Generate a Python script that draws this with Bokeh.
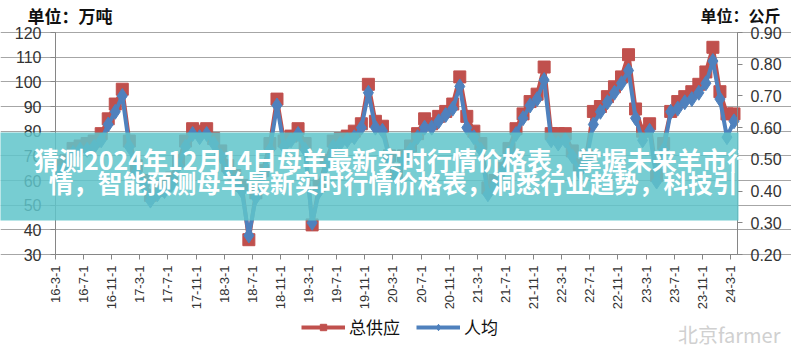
import math
from bokeh.plotting import figure
from bokeh.models import (Range1d, LinearAxis, FixedTicker, NumeralTickFormatter,
                          Legend, LegendItem, Label, BoxAnnotation, ColumnDataSource)
from bokeh.embed import file_html
from bokeh.resources import INLINE

# ---- data -------------------------------------------------------------
tick_labels = ["16-3-1", "16-7-1", "16-11-1", "17-3-1", "17-7-1", "17-11-1",
               "18-3-1", "18-7-1", "18-11-1", "19-3-1", "19-7-1", "19-11-1",
               "20-3-1", "20-7-1", "20-11-1", "21-3-1", "21-7-1", "21-11-1",
               "22-3-1", "22-7-1", "22-11-1", "23-3-1", "23-7-1", "23-11-1",
               "24-3-1"]

# 总供应 (万吨), monthly 2016-03 .. 2024-03
supply = [66, 68, 73, 74, 75, 76, 79, 85, 91, 97,
          76, 66, 60, 54, 56, 58, 61, 68, 76, 81, 80, 81,
          77, 72, 66, 62, 58, 36, 55, 64, 75, 93, 76, 78,
          81, 75, 42, 58, 68, 76, 77, 78, 80, 83, 99, 84,
          82, 70, 63, 70, 74, 79, 85, 83, 86, 88, 91, 102,
          86, 80, 75, 57, 60, 65, 73, 81, 87, 92, 95, 106,
          79, 79, 79, 72, 66, 70, 88, 90, 94, 98, 102, 111,
          89, 80, 83, 62, 75, 88, 92, 94, 96, 99, 104, 114,
          96, 87, 87]

# 人均 (公斤), monthly 2016-03 .. 2024-03
per_capita = [0.46, 0.48, 0.52, 0.53, 0.53, 0.54, 0.56, 0.61, 0.65, 0.70,
              0.54, 0.46, 0.42, 0.37, 0.39, 0.40, 0.42, 0.48, 0.54, 0.58, 0.57, 0.58,
              0.55, 0.51, 0.46, 0.43, 0.40, 0.26, 0.38, 0.45, 0.53, 0.67, 0.54, 0.56,
              0.58, 0.53, 0.30, 0.40, 0.48, 0.54, 0.55, 0.56, 0.57, 0.60, 0.71, 0.60,
              0.59, 0.50, 0.44, 0.50, 0.53, 0.57, 0.60, 0.60, 0.62, 0.64, 0.66, 0.73,
              0.60, 0.57, 0.53, 0.39, 0.42, 0.46, 0.52, 0.58, 0.63, 0.67, 0.69, 0.75,
              0.56, 0.55, 0.56, 0.51, 0.46, 0.50, 0.61, 0.65, 0.68, 0.71, 0.74, 0.78,
              0.63, 0.56, 0.59, 0.43, 0.53, 0.65, 0.66, 0.68, 0.69, 0.71, 0.74, 0.81,
              0.69, 0.57, 0.62]

left_ticks = [30, 40, 50, 60, 70, 80, 90, 100, 110, 120]
right_ticks = [0.2, 0.3, 0.4, 0.5, 0.6, 0.7, 0.8, 0.9]

series_names = ["总供应", "人均"]
unit_left = "单位：万吨"
unit_right = "单位：公斤"
banner_line1 = "猜测2024年12月14日母羊最新实时行情价格表，掌握未来羊市行"
banner_line2 = "情，智能预测母羊最新实时行情价格表，洞悉行业趋势，科技引"
watermark = "北京farmer"

n = len(supply)                      # one slot per month, point at slot centre
xs = [i + 0.5 for i in range(n)]
src = ColumnDataSource(dict(x=xs, supply=supply, pc=per_capita))

RED = "#c0504d"
BLUE = "#4f81bd"
AXIS = "#868686"
TXT = "#333333"
NUM_FONT = "Liberation Sans"
CJK = "Noto Sans CJK SC"

# The frame covers the whole figure; axes are pinned with fixed_location so
# that captions, legend and banner can live anywhere on the canvas.
W, H = 791, 355
FL, FT = 55, 32           # plot area left / top on the canvas
PX_X = 682 / n            # pixels per month
PX_L = 222 / 90           # pixels per left-axis unit
PX_R = 222 / 0.7          # pixels per right-axis unit
x0 = -FL / PX_X
x1 = x0 + W / PX_X
yl_top = 120 + FT / PX_L
yl_bot = yl_top - H / PX_L
yr_top = 0.9 + FT / PX_R
yr_bot = yr_top - H / PX_R

p = figure(width=W, height=H, output_backend="svg", toolbar_location=None,
           x_range=Range1d(x0, x1), y_range=Range1d(yl_bot, yl_top),
           min_border=0, x_axis_location=None, y_axis_location=None)
p.extra_y_ranges = {"right": Range1d(yr_bot, yr_top)}
p.outline_line_color = None
p.background_fill_color = "white"
p.border_fill_color = "white"

xaxis = LinearAxis(ticker=FixedTicker(ticks=[4 * k for k in range(len(tick_labels))]),
                   major_label_overrides={4 * k: t for k, t in enumerate(tick_labels)},
                   fixed_location=30, bounds=(0, n))
xaxis.major_label_orientation = math.pi / 2
p.add_layout(xaxis, "below")

yaxis = LinearAxis(ticker=FixedTicker(ticks=left_ticks), fixed_location=0, bounds=(30, 120))
p.add_layout(yaxis, "left")

raxis = LinearAxis(y_range_name="right", ticker=FixedTicker(ticks=right_ticks),
                   formatter=NumeralTickFormatter(format="0.00"),
                   fixed_location=n, bounds=(0.2, 0.9))
p.add_layout(raxis, "right")

for ax in (xaxis, yaxis, raxis):
    ax.axis_line_color = AXIS
    ax.major_tick_line_color = AXIS
    ax.major_tick_out = 5
    ax.major_tick_in = 0
    ax.minor_tick_out = 0
    ax.minor_tick_in = 0
    ax.major_label_text_color = TXT
    ax.major_label_text_font = NUM_FONT
xaxis.major_label_text_font_size = "13px"
xaxis.major_label_standoff = 6
yaxis.major_label_text_font_size = "16px"
yaxis.major_label_standoff = 9
raxis.major_label_text_font_size = "16px"
raxis.major_label_standoff = 8

p.xgrid.visible = False
p.ygrid.ticker = FixedTicker(ticks=left_ticks)
p.ygrid.bounds = (0, n)
p.ygrid.grid_line_color = "#a6a6a6"
p.ygrid.grid_line_width = 1

# series
r_line = p.line("x", "supply", source=src, line_color=RED, line_width=4)
r_mark = p.scatter("x", "supply", source=src, marker="square", size=12,
                   fill_color=RED, line_color=RED)
b_line = p.line("x", "pc", source=src, y_range_name="right", line_color=BLUE, line_width=4)
b_mark = p.scatter("x", "pc", source=src, y_range_name="right", marker="diamond", size=15,
                   fill_color=BLUE, line_color=BLUE)

legend = Legend(items=[LegendItem(label=series_names[0], renderers=[r_line, r_mark]),
                       LegendItem(label=series_names[1], renderers=[b_line, b_mark])],
                orientation="horizontal", location=(301, 16),
                label_text_font=CJK, label_text_font_size="17px", label_text_color="#111111",
                glyph_width=44, glyph_height=16, label_standoff=4, spacing=16,
                padding=0, margin=0, border_line_color=None, background_fill_alpha=0)
p.add_layout(legend, "center")

# unit captions
p.add_layout(Label(x=-3.98, y=126.9, text=unit_left, text_font=CJK, text_font_size="17px",
                   text_font_style="bold", text_color="#111111", text_align="left",
                   text_baseline="middle"))
p.add_layout(Label(x=103.1, y=126.9, text=unit_right, text_font=CJK, text_font_size="16px",
                   text_font_style="bold", text_color="#111111", text_align="right",
                   text_baseline="middle"))

# watermark
p.add_layout(Label(x=103.1, y=-2.6, text=watermark, text_font=CJK, text_font_size="20px",
                   text_color="#d0d0d0", text_align="right", text_baseline="middle"))

# banner overlay
p.add_layout(BoxAnnotation(left=x0 - 1, right=97.14, top=79.46, bottom=43.78,
                           fill_color="#5fc4ca", fill_alpha=0.85, line_color=None,
                           level="annotation"))
p.add_layout(Label(x=48.0, y=68.9, text=banner_line1, text_font=CJK, text_font_size="25px",
                   text_font_style="bold", text_color="white", text_align="center",
                   text_baseline="middle"))
p.add_layout(Label(x=48.0, y=59.2, text=banner_line2, text_font=CJK, text_font_size="24.6px",
                   text_font_style="bold", text_color="white", text_align="center",
                   text_baseline="middle"))

open("out.html", "w").write(file_html(p, INLINE))
